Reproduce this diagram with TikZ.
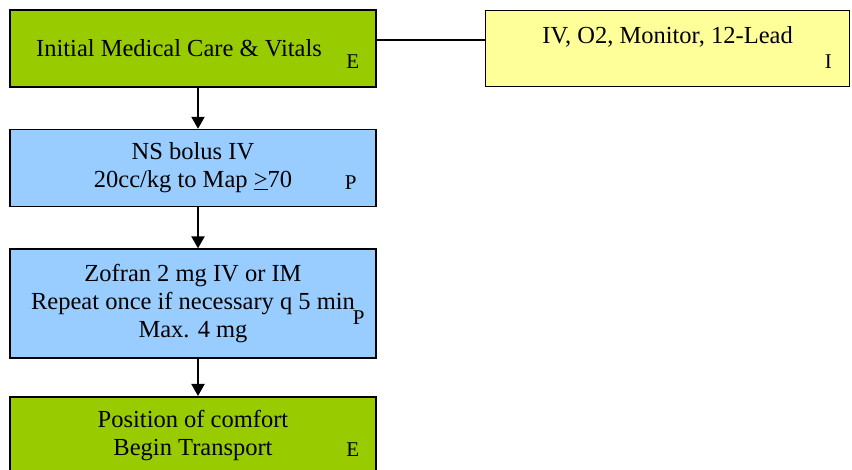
\documentclass[tikz,border=0pt]{standalone}
\usepackage{fontspec}
\setmainfont{Liberation Serif}
\usetikzlibrary{arrows.meta,positioning}

\definecolor{carebox}{HTML}{99CC00}
\definecolor{drugbox}{HTML}{99CCFF}
\definecolor{infobox}{HTML}{FFFF99}

\begin{document}
\begin{tikzpicture}[>={Triangle[width=13pt,length=12pt]},node distance=41pt,
	box/.style={draw,line width=1.6pt,minimum width=366pt,minimum height=77pt,align=center,inner sep=0pt,
		font=\fontsize{24.5}{28}\selectfont},
	tag/.style={font=\fontsize{21}{24}\selectfont,inner sep=0pt},
	flow/.style={->,line width=2pt}]

\useasboundingbox (0,0) rectangle (852pt,-470pt);

\node[box,fill=carebox]   (e1) at (193pt,-48.5pt)   {Initial Medical Care \& Vitals\hspace*{28pt}};
\node[box,fill=drugbox]   (p1)[below=of e1]   {NS bolus IV\\ 20cc/kg to Map \underline{>}70};
\node[box,fill=drugbox,minimum height=109pt]   (p2)[below=of p1]   {Zofran 2 mg IV or IM\\ Repeat once if necessary q 5 min\\ Max. 4 mg};
\node[box,fill=carebox]   (e2)[below=37pt of p2]   {Position of comfort\\ Begin Transport};
\node[box,fill=infobox,minimum width=364pt,minimum height=76pt]   (iv)[right=108pt of e1]   {IV, O2, Monitor, 12-Lead\\[-10pt] \strut};

% level letters
\node[tag] at ([shift={(-24pt,-13pt)}]e1.east) {E};
\node[tag] at ([shift={(-26pt,-15pt)}]p1.east) {P};
\node[tag] at ([shift={(-18pt,-14pt)}]p2.east) {P};
\node[tag] at ([shift={(-24pt,-14pt)}]e2.east) {E};
\node[tag] at ([shift={(-22pt,-13pt)}]iv.east) {I};

\draw[line width=1.6pt] ([yshift=8.5pt]e1.east) -- ([yshift=8.5pt]e1.east -| iv.west);

\draw[flow] ([xshift=5pt]e1.south) -- ([xshift=5pt]p1.north);
\draw[flow] ([xshift=5pt]p1.south) -- ([xshift=5pt]p2.north);
\draw[flow] ([xshift=5pt]p2.south) -- ([xshift=5pt]e2.north);

\end{tikzpicture}
\end{document}
